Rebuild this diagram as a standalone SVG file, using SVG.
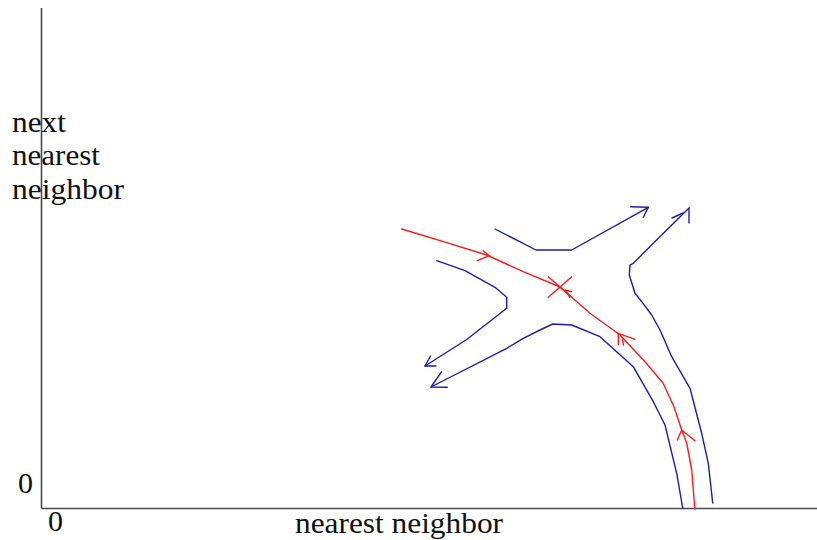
<svg xmlns="http://www.w3.org/2000/svg" width="817" height="540" viewBox="0 0 817 540">
<style>
.ax{stroke:#4a4a4a;stroke-width:1.6;fill:none}
.b{stroke:#1c1cb4;stroke-width:1.4;fill:none;stroke-linejoin:round;stroke-linecap:round}
.r{stroke:#ff1a1a;stroke-width:1.4;fill:none;stroke-linejoin:round;stroke-linecap:round}
text{font-family:"Liberation Serif","Times New Roman",serif;font-size:30px;fill:#111}
</style>
<rect width="817" height="540" fill="#fff"/>
<g id="axes">
<line class="ax" x1="41.5" y1="8" x2="41.5" y2="508.5"/>
<line class="ax" x1="41.5" y1="508.5" x2="817" y2="508.5"/>
</g>
<g id="labels">
<text x="12" y="132" textLength="54" lengthAdjust="spacingAndGlyphs">next</text>
<text x="12" y="165" textLength="88" lengthAdjust="spacingAndGlyphs">nearest</text>
<text x="12" y="199" textLength="112" lengthAdjust="spacingAndGlyphs">neighbor</text>
<text x="18" y="493" font-size="28" textLength="15" lengthAdjust="spacingAndGlyphs">0</text>
<text x="48" y="531" font-size="28" textLength="15" lengthAdjust="spacingAndGlyphs">0</text>
<text x="295" y="533" textLength="208" lengthAdjust="spacingAndGlyphs">nearest neighbor</text>
</g>
<g id="connectors">
<g id="blue-top">
<polyline class="b" points="495,229 536,250 571.7,250 648.3,207.3"/>
<polyline class="b" points="630.7,206.7 648.3,207.3 643.3,217.3"/>
</g>
<g id="blue-right">
<polyline class="b" points="712.7,503 708.3,463.3 701.7,433.3 690,388.3 671.7,356.7 660,330 651.7,315 641.7,301.7 635,293.3 629.3,275 630,265 633.3,263.3 653.3,243.3 689.3,207.7"/>
<polyline class="b" points="689,223 689,209"/>
<polyline class="b" points="672,218 683,213"/>
</g>
<g id="blue-left-upper">
<polyline class="b" points="436.7,260.7 465,270.7 495,287.3 506.7,297.3 506.7,308.3 466.7,339.5 425,366"/>
<polyline class="b" points="430.5,356 425,366 436,366"/>
</g>
<g id="blue-left-lower">
<polyline class="b" points="682.7,508 676.7,473.3 665,425 653.3,401.7 633.3,366.7 600,336.7 571.7,325 552.7,324 540,330 523.3,338.3 506.7,348.3 431,387"/>
<polyline class="b" points="441.7,371.7 431,387 447.3,387.3"/>
</g>
<g id="red">
<polyline class="r" points="401.7,229 446.7,242.7 486.7,255 523.3,271.7 560,287 590,313.3 620,335 645,361.7 663,383 674,406.7 681.7,430 686.7,443 691.7,470 694.8,509"/>
<polyline class="r" points="483.3,250.7 489.3,255.7 477.3,260.7"/>
<polyline class="r" points="571.7,291.7 565,290 570,297.3"/>
<polyline class="r" points="618.3,344.5 618.3,333.3 635,339.3"/>
<polyline class="r" points="623.5,345 622.5,339"/>
<polyline class="r" points="677.3,440 681.7,430 695,440.7"/>
<line class="r" x1="548.3" y1="276.7" x2="571.7" y2="297.3"/>
<line class="r" x1="571.7" y1="276.7" x2="548.3" y2="297.3"/>
</g>
</g>
</svg>
